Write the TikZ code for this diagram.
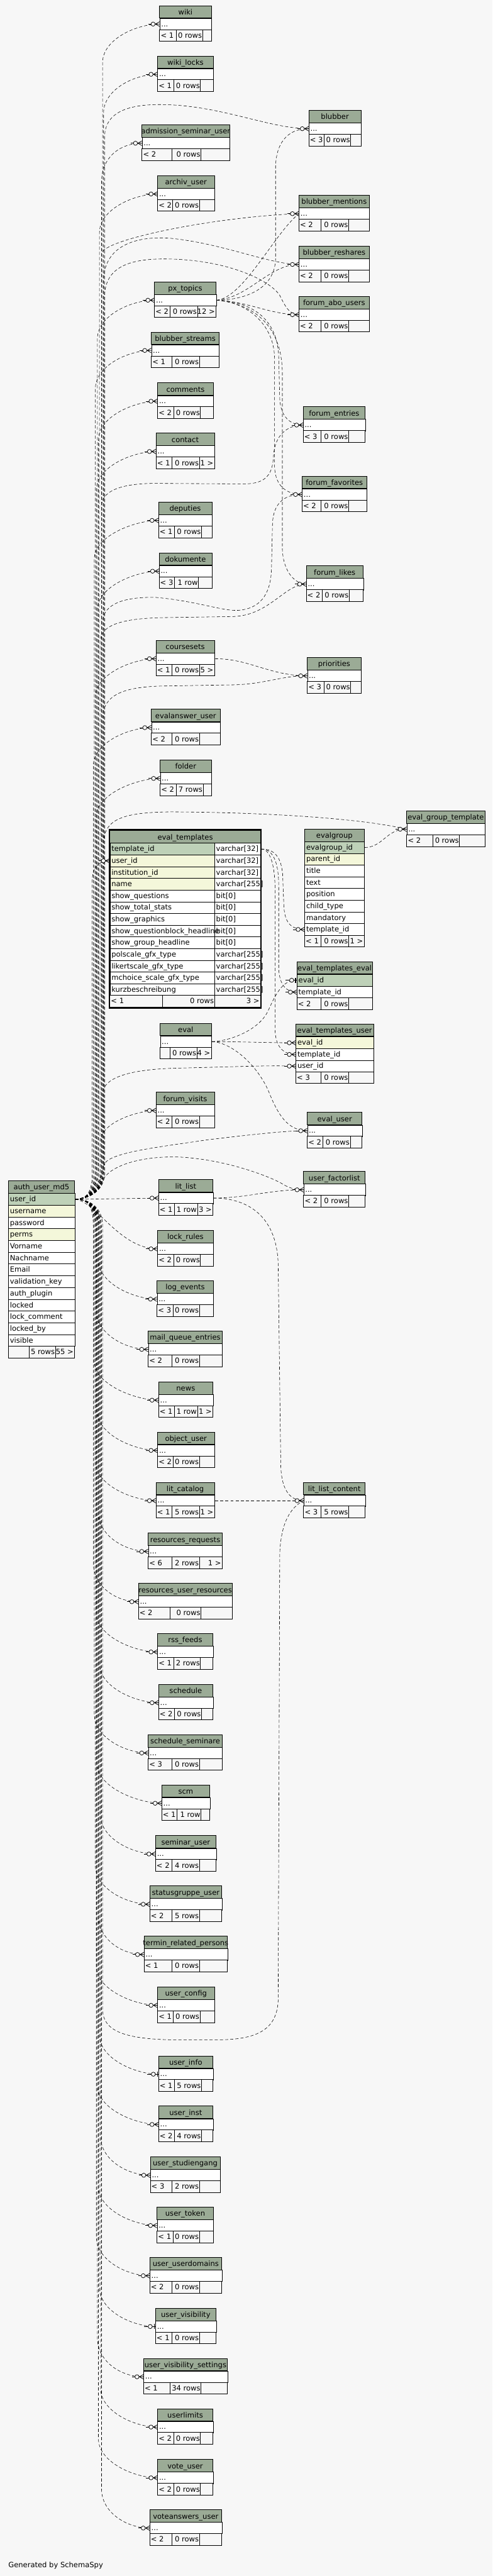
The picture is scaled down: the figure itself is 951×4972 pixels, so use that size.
\documentclass[tikz,border=0pt]{standalone}
\usepackage{fontspec}
\setmainfont{DejaVu Sans}
\usetikzlibrary{calc}
\definecolor{bgc}{HTML}{F7F7F7}
\definecolor{hdrc}{HTML}{9BAB96}
\definecolor{pkc}{HTML}{BED1B8}
\definecolor{idxc}{HTML}{F4F7DA}
\pgfdeclarelayer{back}\pgfdeclarelayer{edges}\pgfsetlayers{back,edges,main}
\tikzset{
 tline/.style={draw=black, line width=0.9pt},
 txt/.style={font=\fontsize{14}{16}\selectfont, inner sep=0pt, text height=12.5pt, text depth=2.5pt},
 cellbox/.style={draw=black, line width=0.9pt, inner sep=0pt, anchor=north west, minimum height=#1},
 fk/.style={draw=black, line width=0.7pt, dash pattern=on 6pt off 4pt},
 mk/.style={draw=black, line width=0.9pt, solid},
}
\newcommand\thdr[4]{%
  \draw[tline, fill=hdrc] (#1,#2) rectangle ({#1+#3},{#2+24});
  \node[txt] at ({#1+#3/2},{#2+12.5}) {#4};}
\newcommand\tfoot[8]{%
  \draw[tline, fill=bgc] (#1,#2) rectangle ({#1+#3},{#2+22.7});
  \draw[tline] ({#1+#4},#2) -- ({#1+#4},{#2+22.7}) ({#1+#5},#2) -- ({#1+#5},{#2+22.7});
  \node[txt,anchor=west] at ({#1+2},{#2+11.3}) {#6};
  \node[txt,anchor=east] at ({#1+#5-1},{#2+11.3}) {#7};
  \node[txt,anchor=east] at ({#1+#3-2},{#2+11.3}) {#8};}
\newcommand\sstable[9]{\def\Tid{#1}\def\Tx{#2}\def\Ty{#3}\def\Tw{#4}\def\Tt{#5}\def\Tl{#6}\def\Tm{#7}\def\Tr{#8}\def\Ta{#9}\tblfin}
\newcommand\tblfin[1]{%
  \thdr{\Tx}{\Ty}{\Tw}{\Tt}
  \pgfmathsetmacro\Tb{\Ty+24}\pgfmathsetmacro\Tc{\Ty+35}\pgfmathsetmacro\Tf{\Ty+46}
  \node[cellbox=22pt, fill=white, minimum width=\Tw] (\Tid) at (\Tx,\Tb) {};
  \node[txt, anchor=west] at ({\Tx+3},\Tc) {...};
  \tfoot{\Tx}{\Tf}{\Tw}{\Ta}{#1}{\Tl}{\Tm}{\Tr}}
\newcommand\eup[4]{\draw[fk] (auth-0.east) .. controls (168,2314) and (#3,2302) .. (#3,2262) -- (#3,{#2+#4}) .. controls (#3,{#2+0.4*#4}) and ($(#1)+({-0.6*#4},0)$) .. (#1);}
\newcommand\edn[4]{\draw[fk] (auth-0.east) .. controls (168,2314) and (#3,2326) .. (#3,2366) -- (#3,{#2-#4}) .. controls (#3,{#2-0.4*#4}) and ($(#1)+({-0.6*#4},0)$) .. (#1);}
\newcommand\mkcrow[1]{%
  \draw[mk] ($(#1)+(-22,0)$) -- ($(#1)+(-16.5,0)$);
  \draw[mk, fill=bgc] ($(#1)+(-12.5,0)$) circle[radius=4pt];
  \draw[mk] ($(#1)+(-8,0)$) -- ($(#1)+(0,-4.5)$) ($(#1)+(-8,0)$) -- ($(#1)+(0,4.5)$) ($(#1)+(-8.5,0)$) -- (#1);}
\newcommand\mkone[1]{%
  \draw[mk] ($(#1)+(-22,0)$) -- ($(#1)+(-14,0)$);
  \draw[mk, fill=bgc] ($(#1)+(-10,0)$) circle[radius=4pt];
  \draw[mk] ($(#1)+(-6,0)$) -- (#1);
  \draw[mk, line width=2.2pt] ($(#1)+(-2,-5)$) -- ($(#1)+(-2,5)$);}
\begin{document}
\begin{tikzpicture}[x=1pt,y=-1pt]
\useasboundingbox (0,0) rectangle (951,4972);
\begin{pgfonlayer}{back}
\fill[bgc] (0,0) rectangle (951,4972);
\end{pgfonlayer}
% ---------------- small tables
\sstable{wiki}{308}{11}{100}{wiki}{< 1}{0 rows}{}{32}{83}
\sstable{wikilocks}{304}{108}{108}{wiki\_locks}{< 1}{0 rows}{}{31}{83}
\sstable{blubber}{596}{213}{101}{blubber}{< 3}{0 rows}{}{29}{81}
\sstable{admission}{274}{241}{169}{admission\_seminar\_user}{< 2}{0 rows}{}{58}{114}
\sstable{archiv}{304}{339}{110}{archiv\_user}{< 2}{0 rows}{}{29}{81}
\sstable{bmentions}{577}{377}{136}{blubber\_mentions}{< 2}{0 rows}{}{43}{96}
\sstable{breshares}{577}{475}{136}{blubber\_reshares}{< 2}{0 rows}{}{43}{96}
\sstable{pxtopics}{298}{544}{119}{px\_topics}{< 2}{0 rows}{12 >}{30}{83}
\sstable{fabo}{577}{572}{136}{forum\_abo\_users}{< 2}{0 rows}{}{43}{96}
\sstable{bstreams}{292}{641}{131}{blubber\_streams}{< 1}{0 rows}{}{40}{93}
\sstable{comments}{304}{739}{108}{comments}{< 2}{0 rows}{}{31}{83}
\sstable{fentries}{585}{785}{120}{forum\_entries}{< 3}{0 rows}{}{35}{88}
\sstable{contact}{301}{836}{113}{contact}{< 1}{0 rows}{1 >}{31}{84}
\sstable{ffav}{583}{919}{125}{forum\_favorites}{< 2}{0 rows}{}{37}{90}
\sstable{deputies}{306}{969}{103}{deputies}{< 1}{0 rows}{}{31}{83}
\sstable{dokumente}{307}{1067}{102}{dokumente}{< 3}{1 row}{}{30}{76}
\sstable{flikes}{591}{1092}{110}{forum\_likes}{< 2}{0 rows}{}{31}{83}
\sstable{coursesets}{301}{1236}{113}{coursesets}{< 1}{0 rows}{5 >}{31}{84}
\sstable{priorities}{593}{1269}{104}{priorities}{< 3}{0 rows}{}{32}{84}
\sstable{evalanswer}{292}{1369}{133}{evalanswer\_user}{< 2}{0 rows}{}{40}{93}
\sstable{folder}{309}{1467}{99}{folder}{< 2}{7 rows}{}{31}{83}
\sstable{egt}{785}{1565}{151}{eval\_group\_template}{< 2}{0 rows}{}{51}{102}
\sstable{eval}{309}{1975}{99}{eval}{}{0 rows}{4 >}{19}{71}
\sstable{fvisits}{301}{2108}{113}{forum\_visits}{< 2}{0 rows}{}{31}{84}
\sstable{evaluser}{593}{2147}{106}{eval\_user}{< 2}{0 rows}{}{30}{83}
\sstable{ufactor}{586}{2261}{119}{user\_factorlist}{< 2}{0 rows}{}{34}{87}
\sstable{litlist}{306}{2277}{105}{lit\_list}{< 1}{1 row}{3 >}{31}{75}
\sstable{lockrules}{304}{2375}{108}{lock\_rules}{< 2}{0 rows}{}{31}{83}
\sstable{logevents}{303}{2472}{109}{log\_events}{< 3}{0 rows}{}{31}{82}
\sstable{mailq}{286}{2569}{143}{mail\_queue\_entries}{< 2}{0 rows}{}{46}{99}
\sstable{news}{306}{2667}{105}{news}{< 1}{1 row}{1 >}{31}{75}
\sstable{objuser}{304}{2764}{110}{object\_user}{< 2}{0 rows}{}{30}{81}
\sstable{litcat}{301}{2861}{113}{lit\_catalog}{< 1}{5 rows}{1 >}{31}{84}
\sstable{llc}{586}{2861}{119}{lit\_list\_content}{< 3}{5 rows}{}{34}{87}
\sstable{resreq}{286}{2959}{143}{resources\_requests}{< 6}{2 rows}{1 >}{46}{99}
\sstable{resur}{267}{3056}{181}{resources\_user\_resources}{< 2}{0 rows}{}{61}{121}
\sstable{rss}{304}{3153}{107}{rss\_feeds}{< 1}{2 rows}{}{31}{83}
\sstable{schedule}{306}{3251}{105}{schedule}{< 2}{0 rows}{}{31}{83}
\sstable{schedsem}{286}{3348}{143}{schedule\_seminare}{< 3}{0 rows}{}{46}{99}
\sstable{scm}{312}{3445}{93}{scm}{< 1}{1 row}{}{29}{76}
\sstable{semuser}{300}{3543}{117}{seminar\_user}{< 2}{4 rows}{}{32}{85}
\sstable{statusg}{289}{3640}{139}{statusgruppe\_user}{< 2}{5 rows}{}{43}{96}
\sstable{termin}{278}{3737}{161}{termin\_related\_persons}{< 1}{0 rows}{}{54}{107}
\sstable{uconfig}{304}{3835}{110}{user\_config}{< 1}{0 rows}{}{30}{82}
\sstable{uinfo}{306}{3968}{105}{user\_info}{< 1}{5 rows}{}{31}{83}
\sstable{uinst}{306}{4065}{105}{user\_inst}{< 2}{4 rows}{}{31}{83}
\sstable{ustud}{290}{4163}{135}{user\_studiengang}{< 3}{2 rows}{}{42}{95}
\sstable{utoken}{303}{4260}{109}{user\_token}{< 1}{0 rows}{}{31}{82}
\sstable{udomains}{289}{4357}{139}{user\_userdomains}{< 2}{0 rows}{}{43}{96}
\sstable{uvis}{300}{4455}{117}{user\_visibility}{< 1}{0 rows}{}{32}{85}
\sstable{uvisset}{277}{4552}{162}{user\_visibility\_settings}{< 1}{34 rows}{}{51}{111}
\sstable{ulimits}{304}{4649}{107}{userlimits}{< 2}{0 rows}{}{31}{83}
\sstable{voteuser}{304}{4747}{107}{vote\_user}{< 2}{0 rows}{}{31}{83}
\sstable{voteans}{289}{4844}{139}{voteanswers\_user}{< 2}{0 rows}{}{43}{96}
% ---------------- eval_templates (focus table)
\thdr{212}{1603}{291}{eval\_templates}
\foreach \i/\c in {0/pkc,1/idxc,2/idxc,3/idxc,4/white,5/white,6/white,7/white,8/white,9/white,10/white,11/white,12/white}{
  \pgfmathsetmacro\ry{1627+\i*22.62}
  \node[cellbox=22.62pt, fill=\c, minimum width=202] (et-\i-n) at (212,\ry) {};
  \node[cellbox=22.62pt, fill=white, minimum width=89] (et-\i-t) at (414,\ry) {};
}
\foreach \i/\n/\t in {0/template\_id/varchar[32],1/user\_id/varchar[32],2/institution\_id/varchar[32],3/name/varchar[255],4/show\_questions/bit[0],5/show\_total\_stats/bit[0],6/show\_graphics/bit[0],7/show\_questionblock\_headline/bit[0],8/show\_group\_headline/bit[0],9/polscale\_gfx\_type/varchar[255],10/likertscale\_gfx\_type/varchar[255],11/mchoice\_scale\_gfx\_type/varchar[255],12/kurzbeschreibung/varchar[255]}{
  \pgfmathsetmacro\ry{1627+\i*22.62+11.31}
  \node[txt,anchor=west] at (215,\ry) {\n};
  \node[txt,anchor=west] at (417,\ry) {\t};
}
\tfoot{212}{1921}{291}{102}{202}{< 1}{0 rows}{3 >}
\draw[line width=2.6pt] (210.8,1601.3) rectangle (504.2,1945.6);
% ---------------- evalgroup
\thdr{588}{1600}{115}{evalgroup}
\foreach \i/\n/\c in {0/evalgroup\_id/pkc,1/parent\_id/idxc,2/title/white,3/text/white,4/position/white,5/child\_type/white,6/mandatory/white,7/template\_id/white}{
  \pgfmathsetmacro\ry{1624+\i*22.6}
  \node[cellbox=22.6pt, fill=\c, minimum width=115] (eg-\i) at (588,\ry) {};
  \node[txt,anchor=west] at (591,{\ry+11.3}) {\n};
}
\tfoot{588}{1805}{115}{32}{85}{< 1}{0 rows}{1 >}
% ---------------- eval_templates_eval
\thdr{573}{1856}{146}{eval\_templates\_eval}
\node[cellbox=23pt, fill=pkc, minimum width=146] (ete-0) at (573,1880) {};
\node[txt,anchor=west] at (576,1891.5) {eval\_id};
\node[cellbox=23pt, fill=white, minimum width=146] (ete-1) at (573,1903) {};
\node[txt,anchor=west] at (576,1914.5) {template\_id};
\tfoot{573}{1926}{146}{47}{100}{< 2}{0 rows}{}
% ---------------- eval_templates_user
\thdr{571}{1976}{150}{eval\_templates\_user}
\foreach \i/\n/\c in {0/eval\_id/idxc,1/template\_id/white,2/user\_id/white}{
  \pgfmathsetmacro\ry{2001+\i*22.5}
  \node[cellbox=22.5pt, fill=\c, minimum width=150] (etu-\i) at (571,\ry) {};
  \node[txt,anchor=west] at (574,{\ry+11.25}) {\n};
}
\tfoot{571}{2068.5}{150}{49}{102}{< 3}{0 rows}{}
% ---------------- auth_user_md5
\thdr{16}{2279}{128}{auth\_user\_md5}
\foreach \i/\n/\c in {0/user\_id/pkc,1/username/idxc,2/password/white,3/perms/idxc,4/Vorname/white,5/Nachname/white,6/Email/white,7/validation\_key/white,8/auth\_plugin/white,9/locked/white,10/lock\_comment/white,11/locked\_by/white,12/visible/white}{
  \pgfmathsetmacro\ry{2303+\i*22.7}
  \node[cellbox=22.7pt, fill=\c, minimum width=128] (auth-\i) at (16,\ry) {};
  \node[txt,anchor=west] at (19,{\ry+11.35}) {\n};
}
\tfoot{16}{2598}{128}{40}{91}{}{5 rows}{55 >}
\node[txt,anchor=west] (gen) at (16,4950) {Generated by SchemaSpy};
% ---------------- connectors
\begin{pgfonlayer}{edges}
\eup{wiki.west}{46}{198}{75}
\eup{wikilocks.west}{143}{200}{75}
\eup{admission.west}{276}{196}{75}
\eup{archiv.west}{374}{192}{75}
\eup{pxtopics.west}{579}{188}{75}
\eup{bstreams.west}{676}{184}{75}
\eup{comments.west}{774}{190}{75}
\eup{contact.west}{871}{186}{75}
\eup{deputies.west}{1004}{182}{75}
\eup{dokumente.west}{1102}{188}{75}
\eup{coursesets.west}{1271}{184}{75}
\eup{evalanswer.west}{1404}{180}{75}
\eup{folder.west}{1502}{186}{75}
\eup{et-1-n.west}{1660.9}{178}{40}
\eup{fvisits.west}{2143}{194}{60}
\edn{logevents.west}{2507}{190}{75}
\edn{mailq.west}{2604}{186}{75}
\edn{news.west}{2702}{182}{75}
\edn{objuser.west}{2799}{188}{75}
\edn{litcat.west}{2896}{184}{75}
\edn{resreq.west}{2994}{190}{75}
\edn{resur.west}{3091}{180}{75}
\edn{rss.west}{3188}{186}{75}
\edn{schedule.west}{3286}{192}{75}
\edn{schedsem.west}{3383}{182}{75}
\edn{scm.west}{3480}{188}{75}
\edn{semuser.west}{3578}{194}{75}
\edn{statusg.west}{3675}{184}{75}
\edn{termin.west}{3772}{190}{75}
\edn{uconfig.west}{3870}{186}{75}
\edn{uinfo.west}{4003}{192}{75}
\edn{uinst.west}{4100}{188}{75}
\edn{ustud.west}{4198}{194}{75}
\edn{utoken.west}{4295}{190}{75}
\edn{udomains.west}{4392}{186}{75}
\edn{uvis.west}{4490}{192}{75}
\edn{uvisset.west}{4587}{188}{75}
\edn{ulimits.west}{4684}{194}{75}
\edn{voteuser.west}{4782}{190}{75}
\edn{voteans.west}{4879}{196}{75}
\draw[fk] (auth-0.east) .. controls (185,2318) and (230,2410) .. (lockrules.west);
\draw[fk] (auth-0.east) -- (litlist.west);
% auth to right-hand tables
\draw[fk] (auth-0.east) .. controls (168,2314) and (202,2302) .. (202,2262) -- (202,265) .. controls (202,215) and (250,200) .. (320,202) .. controls (430,205) and (520,248) .. (blubber.west);
\draw[fk] (auth-0.east) .. controls (168,2314) and (196,2302) .. (196,2262) -- (196,490) .. controls (196,462) and (420,418) .. (bmentions.west);
\draw[fk] (auth-0.east) .. controls (168,2314) and (200,2302) .. (200,2262) -- (200,540) .. controls (202,470) and (270,455) .. (330,460) .. controls (430,470) and (520,510) .. (breshares.west);
\draw[fk] (auth-0.east) .. controls (168,2314) and (202,2302) .. (202,2262) -- (202,570) .. controls (204,510) and (260,498) .. (330,500) .. controls (440,503) and (520,540) .. (540,570) .. controls (552,595) and (560,607) .. (fabo.west);
\draw[fk] (auth-0.east) .. controls (168,2314) and (196,2302) .. (196,2262) -- (196,975) .. controls (198,945) and (240,933) .. (300,933) -- (470,934) .. controls (515,934) and (526,915) .. (528,880) .. controls (530,840) and (555,820) .. (fentries.west);
\draw[fk] (auth-0.east) .. controls (168,2314) and (198,2302) .. (198,2262) -- (198,1200) .. controls (200,1165) and (240,1152) .. (300,1153) .. controls (380,1160) and (430,1180) .. (460,1178) .. controls (500,1175) and (522,1150) .. (524,1100) -- (526,1010) .. controls (528,970) and (550,954) .. (ffav.west);
\draw[fk] (auth-0.east) .. controls (168,2314) and (194,2302) .. (194,2262) -- (194,1235) .. controls (196,1205) and (240,1193) .. (320,1192) -- (450,1190) .. controls (520,1188) and (550,1127) .. (flikes.west);
\draw[fk] (auth-0.east) .. controls (168,2314) and (198,2302) .. (198,2262) -- (198,1385) .. controls (200,1340) and (240,1325) .. (320,1324) -- (440,1322) .. controls (510,1322) and (540,1304) .. (priorities.west);
\draw[fk] (auth-0.east) .. controls (168,2314) and (200,2302) .. (200,2262) -- (200,1625) .. controls (202,1580) and (240,1568) .. (330,1567) .. controls (520,1568) and (700,1580) .. (egt.west);
\draw[fk] (auth-0.east) .. controls (168,2314) and (198,2302) .. (198,2262) -- (198,2110) .. controls (200,2080) and (250,2065) .. (330,2062) -- (480,2058) .. controls (520,2057) and (540,2057) .. (etu-2.west);
\draw[fk] (auth-0.east) .. controls (168,2314) and (196,2292) .. (200,2250) .. controls (205,2225) and (300,2215) .. (400,2200) .. controls (500,2188) and (560,2182) .. (evaluser.west);
\draw[fk] (auth-0.east) .. controls (168,2314) and (190,2295) .. (200,2275) .. controls (215,2250) and (270,2232) .. (340,2233) .. controls (430,2236) and (520,2270) .. (545,2285) .. controls (560,2294) and (570,2296) .. (ufactor.west);
\draw[fk] (auth-0.east) .. controls (168,2314) and (198,2326) .. (198,2366) -- (198,3880) .. controls (200,3920) and (240,3935) .. (330,3937) -- (420,3937) .. controls (500,3937) and (535,3915) .. (537,3860) -- (540,3000) .. controls (542,2940) and (560,2910) .. (llc.west);
% px_topics children
\draw[fk] (pxtopics.east) .. controls (470,579) and (530,560) .. (532,500) -- (532,320) .. controls (534,270) and (560,248) .. (blubber.west);
\draw[fk] (pxtopics.east) .. controls (470,575) and (530,450) .. (bmentions.west);
\draw[fk] (pxtopics.east) .. controls (480,575) and (520,510) .. (breshares.west);
\draw[fk] (pxtopics.east) .. controls (480,582) and (520,607) .. (fabo.west);
\draw[fk] (pxtopics.east) .. controls (480,582) and (536,610) .. (538,690) -- (540,770) .. controls (542,805) and (560,820) .. (fentries.west);
\draw[fk] (pxtopics.east) .. controls (470,582) and (528,620) .. (530,690) -- (530,900) .. controls (531,940) and (555,954) .. (ffav.west);
\draw[fk] (pxtopics.east) .. controls (480,585) and (544,620) .. (545,720) -- (545,1060) .. controls (547,1105) and (570,1127) .. (flikes.west);
% others
\draw[fk] (coursesets.east) .. controls (480,1271) and (520,1304) .. (priorities.west);
\draw[fk] (eg-0.east) .. controls (740,1635.3) and (745,1600) .. (egt.west);
\draw[fk] (et-0-t.east) .. controls (530,1638) and (546,1655) .. (546,1700) -- (548,1750) .. controls (550,1785) and (565,1793.5) .. (eg-7.west);
\draw[fk] (et-0-t.east) .. controls (525,1638) and (538,1660) .. (538,1710) -- (538,1870) .. controls (540,1905) and (555,1914.5) .. (ete-1.west);
\draw[fk] (et-0-t.east) .. controls (520,1638) and (531,1665) .. (531,1720) -- (531,1990) .. controls (533,2025) and (550,2034.75) .. (etu-1.west);
\draw[fk] (eval.east) .. controls (440,2010) and (500,1990) .. (518,1950) .. controls (535,1912) and (548,1891.5) .. (ete-0.west);
\draw[fk] (eval.east) .. controls +(60,0) and +(-60,0) .. (etu-0.west);
\draw[fk] (eval.east) .. controls (450,2012) and (500,2060) .. (520,2110) .. controls (540,2160) and (560,2182) .. (evaluser.west);
\draw[fk] (litlist.east) .. controls (480,2312) and (520,2296) .. (ufactor.west);
\draw[fk] (litlist.east) .. controls (470,2312) and (534,2340) .. (537,2440) -- (542,2830) .. controls (544,2880) and (562,2896) .. (llc.west);
\draw[fk] (litcat.east) -- (llc.west);
\end{pgfonlayer}
% ---------------- markers
\foreach \t in {wiki,wikilocks,blubber,admission,archiv,bmentions,breshares,pxtopics,fabo,bstreams,comments,fentries,contact,ffav,deputies,dokumente,flikes,coursesets,priorities,evalanswer,folder,egt,et-1-n,eg-7,ete-1,etu-0,etu-1,etu-2,fvisits,evaluser,ufactor,litlist,lockrules,logevents,mailq,news,objuser,litcat,llc,resreq,resur,rss,schedule,schedsem,scm,semuser,statusg,termin,uconfig,uinst,ustud,utoken,udomains,uvisset,ulimits,voteuser,voteans}{
  \mkcrow{\t.west}
}
\foreach \t in {uinfo,uvis,ete-0}{
  \mkone{\t.west}
}
\end{tikzpicture}
\end{document}
